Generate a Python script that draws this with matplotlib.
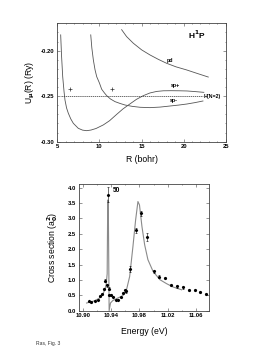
import matplotlib
matplotlib.use("Agg")
import matplotlib.pyplot as plt
from matplotlib.ticker import MultipleLocator, FixedLocator, FormatStrFormatter

plt.rcParams['font.family'] = ['Liberation Sans', 'DejaVu Sans']
plt.rcParams['font.weight'] = 'bold'

# ---- top panel: potential curves ----
sp_plus_R = [5.40, 5.50, 5.64, 5.80, 5.91, 6.10, 6.31, 6.60, 6.90, 7.49, 8.0, 8.49, 9.0, 9.6,
             10.46, 11.2, 12.05, 12.8, 13.63, 14.4, 15.2, 16.0, 16.8, 17.6, 18.5, 19.5, 20.4, 21.4, 22.4]
sp_plus_U = [-0.1827, -0.205, -0.2286, -0.245, -0.2542, -0.263, -0.2688, -0.275, -0.2798, -0.2853,
             -0.2873, -0.2879, -0.2872, -0.2855, -0.2816, -0.2770, -0.2700, -0.2640, -0.2585, -0.2535,
             -0.2495, -0.2465, -0.2448, -0.2441, -0.2440, -0.2441, -0.2443, -0.2450, -0.2458]

sp_minus_R = [8.97, 9.1, 9.28, 9.48, 9.68, 10.0, 10.27, 10.6, 10.87, 11.3, 11.85, 12.45, 13.04,
              13.9, 14.82, 16.0, 17.2, 18.4, 19.4, 20.4, 21.4, 22.3]
sp_minus_U = [-0.1827, -0.197, -0.2102, -0.221, -0.2286, -0.2355, -0.2424, -0.2465, -0.2495,
              -0.2530, -0.2560, -0.2580, -0.2597, -0.2612, -0.2622, -0.2626, -0.2620, -0.2608,
              -0.2598, -0.2586, -0.2570, -0.2553]

pd_R = [12.64, 13.23, 14.03, 15.02, 16.0, 17.0, 17.98, 19.1, 20.36, 21.6, 22.93]
pd_U = [-0.177, -0.1846, -0.1919, -0.1992, -0.2047, -0.2096, -0.2139, -0.2178, -0.2212, -0.2250, -0.2290]

threshold_R = [5.44, 22.3]
threshold_U = [-0.25, -0.25]

cross_R = [6.55, 11.46]
cross_U = [-0.2421, -0.2421]

# ---- bottom panel: cross section ----
theory_E = [10.9047, 10.9158, 10.923, 10.9277, 10.9305, 10.9325, 10.9340, 10.9348, 10.9356, 10.9368,
            10.9387, 10.942, 10.949, 10.9563, 10.961, 10.966, 10.9707, 10.9745, 10.9778, 10.980,
            10.9835, 10.9874, 10.992, 10.9993, 11.009, 11.0185, 11.028, 11.040]
theory_S = [0.25, 0.32, 0.41, 0.52, 0.68, 0.84, 1.2, 3.6, 3.5, 0.0,
            0.25, 0.33, 0.41, 0.49, 0.63, 1.11, 2.09, 2.95, 3.55, 3.44,
            2.74, 2.14, 1.66, 1.28, 1.01, 0.88, 0.77, 0.68]

exp_E = [10.9076, 10.911, 10.917, 10.9205, 10.924, 10.926, 10.929, 10.9315, 10.934, 10.9358,
         10.937, 10.936, 10.9397, 10.943, 10.946, 10.949, 10.954, 10.957, 10.960, 10.961,
         10.966, 10.9745, 10.9826, 10.991, 11.000, 11.0075, 11.017, 11.025, 11.034, 11.0414,
         11.050, 11.0586, 11.0666, 11.075]
exp_S = [0.30, 0.28, 0.33, 0.36, 0.49, 0.53, 0.71, 0.98, 0.82, 3.77,
         0.72, 0.50, 0.51, 0.46, 0.36, 0.36, 0.43, 0.57, 0.66, 0.63,
         1.36, 2.61, 3.17, 2.41, 1.28, 1.11, 1.06, 0.84, 0.79, 0.76,
         0.68, 0.68, 0.62, 0.54]
exp_err = [0.02, 0.02, 0.02, 0.02, 0.03, 0.03, 0.04, 0.06, 0.04, 0.24,
           0.04, 0.03, 0.03, 0.03, 0.02, 0.02, 0.03, 0.03, 0.04, 0.04,
           0.09, 0.08, 0.08, 0.13, 0.06, 0.05, 0.04, 0.04, 0.04, 0.04,
           0.03, 0.03, 0.03, 0.03]

energy_ticks = [10.90, 10.94, 10.98, 11.02, 11.06]
energy_minor = [10.92, 10.96, 11.00, 11.04]

fig = plt.figure(figsize=(2.77, 3.58), dpi=100)

line_col = '#555555'
spine_col = '#444444'

# top axes
ax1 = fig.add_axes([0.2069, 0.6042, 0.6079, 0.3307])
ax1.plot(sp_plus_R, sp_plus_U, color=line_col, lw=0.6)
ax1.plot(sp_minus_R, sp_minus_U, color=line_col, lw=0.6)
ax1.plot(pd_R, pd_U, color=line_col, lw=0.6)
ax1.plot(threshold_R, threshold_U, color='#333333', lw=0.5, ls=(0, (2, 1)))
ax1.plot(cross_R, cross_U, '+', color='#333333', ms=3, mew=0.5)
ax1.set_xlim(5, 25)
ax1.set_ylim(-0.30, -0.17)
ax1.xaxis.set_major_locator(MultipleLocator(5))
ax1.xaxis.set_minor_locator(MultipleLocator(1))
ax1.yaxis.set_major_locator(MultipleLocator(0.05))
ax1.yaxis.set_minor_locator(MultipleLocator(0.01))
ax1.yaxis.set_major_formatter(FormatStrFormatter('%.2f'))
ax1.text(18.4, -0.2113, 'pd', fontsize=3.8, ha='center', va='center')
ax1.text(19.0, -0.2388, 'sp+', fontsize=3.8, ha='center', va='center')
ax1.text(18.8, -0.2550, 'sp-', fontsize=3.8, ha='center', va='center')
ax1.text(22.35, -0.25, 'H(N=2)', fontsize=3.8, ha='left', va='center')
ax1.text(21.55, -0.1827, r'H$^{\mathbf{1}}$P', fontsize=6, ha='center', va='center')
ax1.set_xlabel('R (bohr)', fontsize=6.2, labelpad=4)
ax1.set_ylabel(r'U$_{\mathbf{\mu}}$(R) (Ry)', fontsize=6.2, labelpad=3)

# bottom axes
ax2 = fig.add_axes([0.2852, 0.1321, 0.4704, 0.3539])
ax2.plot(theory_E, theory_S, color='#8a8a8a', lw=0.8)
ax2.errorbar(exp_E, exp_S, yerr=exp_err, fmt='D', color='black', ms=1.1,
             elinewidth=0.4, capsize=0.8, capthick=0.4)
ax2.set_xlim(10.8939, 11.0794)
ax2.set_ylim(0, 4.12)
ax2.xaxis.set_major_locator(FixedLocator(energy_ticks))
ax2.xaxis.set_minor_locator(FixedLocator(energy_minor))
ax2.yaxis.set_major_locator(MultipleLocator(0.5))
ax2.xaxis.set_major_formatter(FormatStrFormatter('%.2f'))
ax2.yaxis.set_major_formatter(FormatStrFormatter('%.1f'))
ax2.text(10.9475, 3.9, '50', fontsize=4.8, ha='center', va='center')
ax2.set_xlabel('Energy (eV)', fontsize=6.2, labelpad=6)
ax2.set_ylabel(r'Cross section (a$_{\mathbf{0}}^{\mathbf{2}}$)', fontsize=6.2, labelpad=6)

for ax in (ax1, ax2):
    for sp in ax.spines.values():
        sp.set_color(spine_col)
        sp.set_linewidth(0.6)
    ax.tick_params(which='both', direction='in', top=True, right=True,
                   color=spine_col, width=0.4, labelsize=4.2, pad=2)
    ax.tick_params(which='major', length=2.0)
    ax.tick_params(which='minor', length=1.0)

fig.text(36 / 277, 1 - 343 / 358, 'Ras, Fig. 3', fontsize=3.6, fontweight='normal',
         ha='left', va='center', color='#333333')

fig.savefig('out.png', dpi=100)
